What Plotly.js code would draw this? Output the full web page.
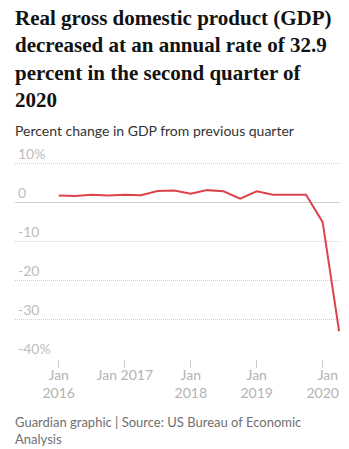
<!DOCTYPE html>
<html>
<head>
<meta charset="utf-8">
<script src="https://cdn.plot.ly/plotly-3.0.1.min.js"></script>
<style>
  html, body { margin: 0; padding: 0; background: #ffffff; }
  #chart { width: 349px; height: 449px; }
</style>
</head>
<body>
<div id="chart"></div>
<script>
// Quarterly dates (start of quarter)
const quarters = [
  '2016-01-01','2016-04-01','2016-07-01','2016-10-01',
  '2017-01-01','2017-04-01','2017-07-01','2017-10-01',
  '2018-01-01','2018-04-01','2018-07-01','2018-10-01',
  '2019-01-01','2019-04-01','2019-07-01','2019-10-01',
  '2020-01-01','2020-04-01'
];
// Percent change in real GDP from previous quarter (annual rate)
const gdpChange = [
  1.8, 1.7, 2.0, 1.8,
  2.0, 1.9, 3.0, 3.1,
  2.3, 3.2, 2.9, 1.0,
  2.9, 2.0, 2.0, 2.0,
  -5.0, -32.9
];
const xTickVals = ['2016-01-01','2017-01-01','2018-01-01','2019-01-01','2020-01-01'];
const xTickText = ['Jan<br>2016','Jan 2017','Jan<br>2018','Jan<br>2019','\u00a0\u00a0\u00a0Jan<br>2020'];
const yTickVals = [10, 0, -10, -20, -30, -40];
const yTickText = ['10%', '0', '-10', '-20', '-30', '-40%'];

const headline = 'Real gross domestic product (GDP)<br>decreased at an annual rate of 32.9<br>percent in the second quarter of<br>2020';
const subtitle = 'Percent change in GDP from previous quarter';
const source = 'Guardian graphic | Source: US Bureau of Economic<br>Analysis';

const trace = {
  type: 'scatter',
  mode: 'lines',
  x: quarters,
  y: gdpChange,
  line: { color: '#dc434c', width: 2 },
  hoverinfo: 'x+y'
};

const layout = {
  width: 349,
  height: 449,
  paper_bgcolor: '#ffffff',
  plot_bgcolor: '#ffffff',
  showlegend: false,
  margin: { l: 15, r: 9, t: 144, b: 90 },
  title: {
    text: headline,
    font: { family: 'Liberation Serif', size: 21, weight: 'bold', color: '#121212' },
    xref: 'container', x: 15/349, xanchor: 'left',
    yref: 'container', y: 1 - 25/449, yanchor: 'top'
  },
  xaxis: {
    type: 'date',
    range: ['2015-05-04', '2020-04-06'],
    tickvals: xTickVals,
    ticktext: xTickText,
    ticks: 'outside',
    ticklen: 8,
    tickwidth: 1,
    tickcolor: '#cccccc',
    ticklabelstandoff: -5,
    showgrid: false,
    zeroline: false,
    showline: false,
    tickfont: { family: 'Lato', size: 14, color: '#b3b3b3' },
    fixedrange: true
  },
  yaxis: {
    range: [-40, 15],
    tickvals: yTickVals,
    ticktext: yTickText,
    ticks: '',
    ticklabelposition: 'inside top',
    ticklabelstandoff: 0,
    showgrid: true,
    gridcolor: '#cfcfcf',
    griddash: '1px,1px',
    gridwidth: 1,
    zeroline: true,
    zerolinecolor: '#d0d0d0',
    zerolinewidth: 1,
    showline: false,
    tickfont: { family: 'Lato', size: 14, color: '#bdbdbd' },
    fixedrange: true
  },
  annotations: [
    {
      text: subtitle,
      xref: 'paper', yref: 'paper',
      x: -2/325, y: (359 - 130) / 215,
      xanchor: 'left', yanchor: 'middle',
      showarrow: false,
      font: { family: 'Lato', size: 14, color: '#333333' }
    },
    {
      text: source,
      xref: 'paper', yref: 'paper',
      x: -2/325, y: (359 - 430) / 215,
      xanchor: 'left', yanchor: 'middle', align: 'left',
      showarrow: false,
      font: { family: 'Lato', size: 13, color: '#707070' }
    }
  ]
};

Plotly.newPlot('chart', [trace], layout, { displayModeBar: false, staticPlot: true });
</script>
</body>
</html>
